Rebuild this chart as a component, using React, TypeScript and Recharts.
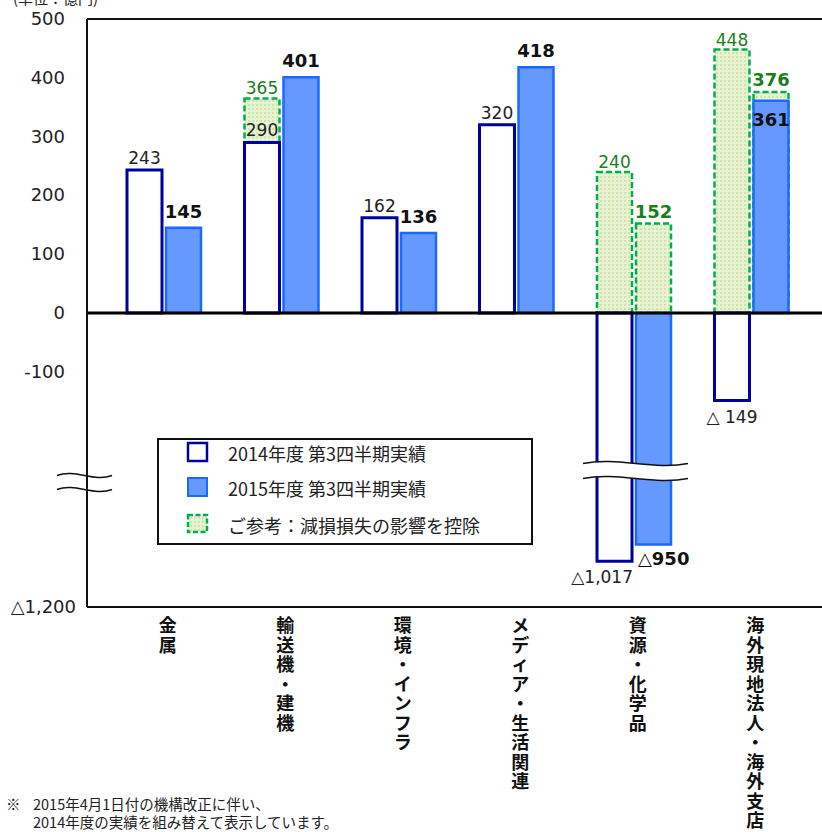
import { Bar, BarChart, LabelList, Legend, ReferenceLine, XAxis, YAxis } from "recharts"

const categories = [
  "金属",
  "輸送機・建機",
  "環境・インフラ",
  "メディア・生活関連",
  "資源・化学品",
  "海外現地法人・海外支店",
]
const actual2014 = [243, 290, 162, 320, -1017, -149]
const actual2015 = [145, 401, 136, 418, -950, 361]
// ご参考：減損損失の影響を控除
const adjusted2014 = [null, 365, null, null, 240, 448]
const adjusted2015 = [null, null, null, null, 152, 376]
const labels2014 = ["243", "290", "162", "320", "△1,017", "△ 149"]
const labels2015 = ["145", "401", "136", "418", "△950", "361"]
const yTicks = [500, 400, 300, 200, 100, 0, -100, -1200]

const NUM_FONT = "DejaVu Sans, Verdana, 'Noto Sans CJK JP', sans-serif"
const JP_FONT = "'Noto Sans CJK JP', sans-serif"
const GREEN_TEXT = "#1a7f1a"

// broken axis: values below the break are squeezed into the lower part
const BREAK = -400
const squash = (v: number | null) =>
  v == null ? null : v > BREAK ? v : -500 + (v + 1200) * 0.425

const data = categories.map((name, i) => ({
  name,
  a14: squash(actual2014[i]),
  a15: squash(actual2015[i]),
  r14: squash(adjusted2014[i]),
  r15: squash(adjusted2015[i]),
}))

function YTick(props: any) {
  const { x, y, payload } = props
  const real = yTicks.find((v) => squash(v) === payload.value) ?? payload.value
  const low = real < BREAK
  const text = low ? "△" + Math.abs(real).toLocaleString("en-US") : String(real)
  return (
    <text x={low ? x + 11 : x} y={y} dy={6} textAnchor="end" fontSize={18} fill="#222" fontFamily={NUM_FONT}>
      {text}
    </text>
  )
}

function CategoryTick(props: any) {
  const { x, y, payload } = props
  const chars = Array.from(String(payload.value))
  return (
    <g>
      {chars.map((c, i) => (
        <text
          key={i}
          x={x + 4}
          y={y + 17 + i * 19.5}
          textAnchor="middle"
          fontSize={18}
          fontWeight="bold"
          fill="#111"
          fontFamily={JP_FONT}
        >
          {c}
        </text>
      ))}
    </g>
  )
}

function edges(props: any) {
  const { x, y, width, height } = props
  return {
    x,
    width,
    cx: x + width / 2,
    top: Math.min(y, y + height),
    bottom: Math.max(y, y + height),
  }
}

function Label2014(props: any) {
  const i = props.index
  const v = actual2014[i]
  const { x, width, cx, top, bottom } = edges(props)
  const text = labels2014[i]
  if (v >= 0) {
    return (
      <text x={cx} y={top - 6} textAnchor="middle" fontSize={17} fill="#222" fontFamily={NUM_FONT}>
        {text}
      </text>
    )
  }
  const long = text.length > 5
  return (
    <text
      x={long ? x + width + 1 : cx}
      y={bottom + 22}
      textAnchor={long ? "end" : "middle"}
      fontSize={17}
      fill="#222"
      fontFamily={NUM_FONT}
    >
      {text}
    </text>
  )
}

function Label2015(props: any) {
  const i = props.index
  const v = actual2015[i]
  const ref = adjusted2015[i]
  const { x, cx, top, bottom } = edges(props)
  const text = labels2015[i]
  if (v < 0) {
    return (
      <text x={x + 2} y={bottom + 20} textAnchor="start" fontSize={18} fontWeight="bold" fill="#111" fontFamily={NUM_FONT}>
        {text}
      </text>
    )
  }
  const inside = ref != null && ref - v < 40
  return (
    <text
      x={cx}
      y={inside ? top + 25 : top - 10}
      textAnchor="middle"
      fontSize={18}
      fontWeight="bold"
      fill="#111"
      fontFamily={NUM_FONT}
    >
      {text}
    </text>
  )
}

// adjusted values are all above the break, so the plotted value is the real one
function makeRefLabel(bold: boolean) {
  return (props: any) => {
    const v = props.value
    if (v == null || props.height == null) return null
    const { cx, top } = edges(props)
    return (
      <text
        x={cx}
        y={top - (bold ? 6 : 4)}
        textAnchor="middle"
        fontSize={bold ? 18 : 17}
        fontWeight={bold ? "bold" : "normal"}
        fill={GREEN_TEXT}
        fontFamily={NUM_FONT}
      >
        {v}
      </text>
    )
  }
}

function wave(x0: number, w: number, y: number, gap: number) {
  const c = (yy: number) =>
    `${x0},${yy} C${x0 + w / 3},${yy - 7} ${x0 + (2 * w) / 3},${yy + 7} ${x0 + w},${yy}`
  const lower = `${x0 + w},${y + gap / 2} C${x0 + (2 * w) / 3},${y + gap / 2 + 7} ${x0 + w / 3},${y + gap / 2 - 7} ${x0},${y + gap / 2}`
  return (
    <g>
      <path d={`M${c(y - gap / 2)} L${lower} Z`} fill="#fff" stroke="none" />
      <path d={`M${c(y - gap / 2)}`} fill="none" stroke="#111" strokeWidth={1.5} />
      <path d={`M${c(y + gap / 2)}`} fill="none" stroke="#111" strokeWidth={1.5} />
    </g>
  )
}

function BreakMarks(props: any) {
  const { x1, y1 } = props
  return (
    <g>
      {wave(x1 - 30, 55, y1 + 5.5, 14)}
      {wave(x1 + 496, 105, y1 - 6, 15)}
    </g>
  )
}

function LegendBox() {
  const rows = [
    { label: "2014年度 第3四半期実績", kind: "a14", cy: 15 },
    { label: "2015年度 第3四半期実績", kind: "a15", cy: 50 },
    { label: "ご参考：減損損失の影響を控除", kind: "ref", cy: 87 },
  ]
  return (
    <div
      style={{
        position: "relative",
        width: 376,
        height: 107,
        boxSizing: "border-box",
        border: "2px solid #111",
        background: "#fff",
      }}
    >
      {rows.map((r) => (
        <div
          key={r.kind}
          style={{
            position: "absolute",
            left: 27,
            top: r.cy - 2 - 13,
            height: 26,
            display: "flex",
            alignItems: "center",
          }}
        >
          <svg width={24} height={24}>
            {r.kind === "a14" && <rect x={2} y={2} width={19} height={18} fill="#fff" stroke="#0000a0" strokeWidth={2.5} />}
            {r.kind === "a15" && <rect x={2} y={2} width={19} height={18} fill="#6699ff" stroke="#1a6aff" strokeWidth={2} />}
            {r.kind === "ref" && (
              <rect x={2} y={2} width={19} height={17} fill="url(#greenDots)" stroke="#00b050" strokeWidth={2.5} strokeDasharray="5 2.5" />
            )}
          </svg>
          <span style={{ marginLeft: 18, fontSize: 18, color: "#222", fontFamily: JP_FONT, whiteSpace: "nowrap" }}>
            {r.label}
          </span>
        </div>
      ))}
    </div>
  )
}

const noteStyle = {
  position: "absolute" as const,
  zIndex: 2,
  fontSize: 14.5,
  lineHeight: "18px",
  color: "#222",
  fontFamily: JP_FONT,
  whiteSpace: "nowrap" as const,
}

export default function App() {
  return (
    <div style={{ position: "absolute", left: 0, top: 0, width: 822, height: 832, background: "#fff" }}>
      <BarChart
        width={822}
        height={832}
        data={data}
        margin={{ top: 19, right: 0, left: 0, bottom: 0 }}
        barSize={35}
        barGap={4}
      >
        <defs>
          <pattern id="greenDots" width="4" height="4" patternUnits="userSpaceOnUse">
            <rect width="4" height="4" fill="#e6f2d2" />
            <rect width="2" height="2" fill="#cfe5a8" />
          </pattern>
        </defs>
        <XAxis
          dataKey="name"
          interval={0}
          height={225}
          tickLine={false}
          axisLine={{ stroke: "#111", strokeWidth: 2 }}
          padding={{ left: 18, right: 12 }}
          tick={<CategoryTick />}
        />
        <XAxis xAxisId="ref" dataKey="name" hide padding={{ left: 18, right: 12 }} />
        <YAxis
          width={87}
          domain={[-500, 500]}
          ticks={yTicks.map((v) => squash(v) as number)}
          interval={0}
          tickLine={false}
          tickSize={6}
          tickMargin={16}
          axisLine={{ stroke: "#111", strokeWidth: 2 }}
          tick={<YTick />}
        />
        <Legend
          layout="horizontal"
          verticalAlign="middle"
          wrapperStyle={{ left: 157, top: 438, width: 376, height: 107 }}
          content={() => <LegendBox />}
        />
        <Bar
          xAxisId="ref"
          dataKey="r14"
          fill="url(#greenDots)"
          stroke="#00b050"
          strokeWidth={2.5}
          strokeDasharray="6 3"
          isAnimationActive={false}
        >
          <LabelList dataKey="r14" content={makeRefLabel(false)} />
        </Bar>
        <Bar
          xAxisId="ref"
          dataKey="r15"
          fill="url(#greenDots)"
          stroke="#00b050"
          strokeWidth={2.5}
          strokeDasharray="6 3"
          isAnimationActive={false}
        >
          <LabelList dataKey="r15" content={makeRefLabel(true)} />
        </Bar>
        <Bar dataKey="a14" fill="#fff" stroke="#0000a0" strokeWidth={3} isAnimationActive={false}>
          <LabelList dataKey="a14" content={<Label2014 />} />
        </Bar>
        <Bar dataKey="a15" fill="#6699ff" stroke="#1a6aff" strokeWidth={2.5} isAnimationActive={false}>
          <LabelList dataKey="a15" content={<Label2015 />} />
        </Bar>
        <ReferenceLine y={500} stroke="#111" strokeWidth={2} />
        <ReferenceLine y={0} stroke="#000" strokeWidth={3} />
        <ReferenceLine y={-279} stroke="none" shape={(p: any) => <BreakMarks {...p} />} />
      </BarChart>
      <div style={{ ...noteStyle, left: 13, top: -13, fontSize: 15, lineHeight: "22px" }}>(単位：億円)</div>
      <div style={{ ...noteStyle, left: 6, top: 795 }}>※</div>
      <div style={{ ...noteStyle, left: 33, top: 795 }}>
        2015年4月1日付の機構改正に伴い、
        <br />
        2014年度の実績を組み替えて表示しています。
      </div>
    </div>
  )
}
